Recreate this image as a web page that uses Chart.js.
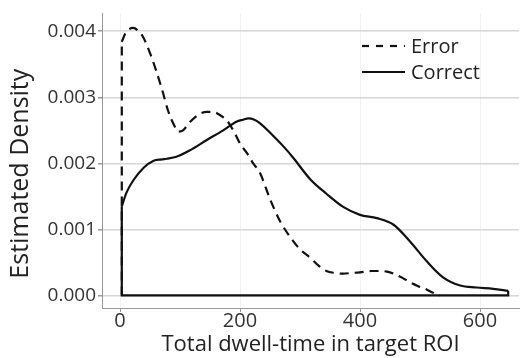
<!DOCTYPE html>
<html>
<head>
<meta charset="utf-8">
<script src="https://cdn.jsdelivr.net/npm/chart.js@4/dist/chart.umd.min.js"></script>
<style>
  html, body { margin: 0; padding: 0; background: #fff; }
  #wrap { width: 523px; height: 358px; }
</style>
</head>
<body>
<div id="wrap"><canvas id="myChart"></canvas></div>
<script>
// values (density curves, x strictly increasing)
const errorX = [3, 9, 15, 22, 30, 38, 50, 60, 70, 80, 90, 97, 105, 117, 133, 145, 155, 165, 178, 190, 200, 212, 222, 233, 250, 267, 289, 300, 317, 330, 344, 358, 372, 386, 400, 418, 433, 445, 456, 470, 483, 497, 511, 522, 533]
const errorY = [0.00384, 0.00397, 0.00403, 0.00405, 0.00401, 0.00392, 0.00367, 0.00341, 0.00312, 0.0028, 0.00258, 0.00248, 0.0025, 0.00263, 0.00275, 0.00278, 0.00278, 0.00274, 0.00265, 0.00248, 0.0023, 0.00215, 0.002, 0.00186, 0.00146, 0.00112, 0.00082, 0.0007, 0.00057, 0.00046, 0.00037, 0.00034, 0.00033, 0.00034, 0.00035, 0.00037, 0.00037, 0.00036, 0.00033, 0.00027, 0.0002, 0.00014, 0.00009, 0.00004, 0]

const correctX = [3, 11, 22, 39, 56, 70, 78, 94, 117, 144, 172, 194, 205, 214, 224, 233, 256, 278, 289, 317, 344, 372, 400, 428, 456, 483, 511, 539, 567, 594, 622, 647]
const correctY = [0.00135, 0.00156, 0.00174, 0.00193, 0.00204, 0.00206, 0.00207, 0.0021, 0.0022, 0.00235, 0.0025, 0.00263, 0.00266, 0.00268, 0.00266, 0.00261, 0.00241, 0.0022, 0.00208, 0.00176, 0.00154, 0.00134, 0.00122, 0.00117, 0.00107, 0.00082, 0.00052, 0.00027, 0.00015, 0.00012, 0.0001, 0.00007]

// straight outline edges of the density polygons (start drop, baseline, end drop)
const errorEdgeX = [3, 3]
const errorEdgeY = [0, 0.00384]
const correctEdgeX = [3, 3, 647, 647]
const correctEdgeY = [0.00135, 0, 0, 0.00007]

const xTicks = [0, 200, 400, 600]
const yTicks = [0, 0.001, 0.002, 0.003, 0.004]
const seriesNames = ['Error', 'Correct']

const font = "'Open Sans', 'Noto Sans', sans-serif"
const dash = [9, 6]

const toPoints = (xs, ys) => xs.map((x, i) => ({ x: x, y: ys[i] }))

// little legend drawn inside the plot, top right
const innerLegend = {
  id: 'innerLegend',
  afterDraw(chart) {
    const ctx = chart.ctx
    const x0 = 362, x1 = 405
    const rows = [46, 72]
    const styles = [[7, 7], []]
    ctx.save()
    seriesNames.forEach((name, i) => {
      const y = rows[i]
      ctx.beginPath()
      ctx.lineWidth = 2.2
      ctx.strokeStyle = '#111'
      ctx.setLineDash(styles[i])
      ctx.moveTo(x0, y)
      ctx.lineTo(x1, y)
      ctx.stroke()
      ctx.setLineDash([])
      ctx.fillStyle = '#222'
      ctx.font = '20px ' + font
      ctx.textBaseline = 'middle'
      ctx.fillText(name, 411, y + 1)
    })
    ctx.restore()
  }
}

const lineStyle = {
  showLine: true,
  borderColor: '#111',
  borderWidth: 2.2,
  pointRadius: 0,
  fill: false
}

const ctx = document.getElementById('myChart').getContext('2d')
new Chart(ctx, {
  type: 'scatter',
  data: {
    datasets: [
      Object.assign({ label: 'Error edge', data: toPoints(errorEdgeX, errorEdgeY), borderDash: dash, tension: 0 }, lineStyle),
      Object.assign({ label: seriesNames[0], data: toPoints(errorX, errorY), borderDash: dash, cubicInterpolationMode: 'monotone' }, lineStyle),
      Object.assign({ label: 'Correct edge', data: toPoints(correctEdgeX, correctEdgeY), tension: 0 }, lineStyle),
      Object.assign({ label: seriesNames[1], data: toPoints(correctX, correctY), cubicInterpolationMode: 'monotone' }, lineStyle)
    ]
  },
  plugins: [innerLegend],
  options: {
    responsive: true,
    maintainAspectRatio: false,
    animation: false,
    layout: { padding: { top: 8, right: 4, left: 0, bottom: 0 } },
    plugins: {
      legend: { display: false },
      tooltip: { enabled: false }
    },
    scales: {
      x: {
        type: 'linear',
        min: -30,
        max: 665,
        afterBuildTicks: s => { s.ticks = xTicks.map(v => ({ value: v })) },
        afterFit: s => { s.height = 50 },
        grid: { color: '#f1f1f1', lineWidth: 1, tickLength: 4, tickColor: '#999' },
        border: { color: '#999', width: 1 },
        ticks: { color: '#333', font: { family: font, size: 20 }, padding: -3, maxRotation: 0 },
        title: { display: true, text: 'Total dwell-time in target ROI', color: '#222', font: { family: font, size: 22 }, padding: { top: -6, bottom: 0 } }
      },
      y: {
        type: 'linear',
        min: -0.00019,
        max: 0.00427,
        afterBuildTicks: s => { s.ticks = yTicks.map(v => ({ value: v })) },
        afterFit: s => { s.width = 102 },
        grid: { color: '#d6d6d6', lineWidth: 1.5, tickLength: 4, tickColor: '#999' },
        border: { color: '#999', width: 1 },
        ticks: { color: '#333', font: { family: font, size: 19 }, padding: 2, callback: v => v.toFixed(3) },
        // trailing spaces nudge the rotated title down a little
        title: { display: true, text: 'Estimated Density    ', color: '#222', font: { family: font, size: 25 }, padding: { top: 6, bottom: 0 } }
      }
    }
  }
})
</script>
</body>
</html>
